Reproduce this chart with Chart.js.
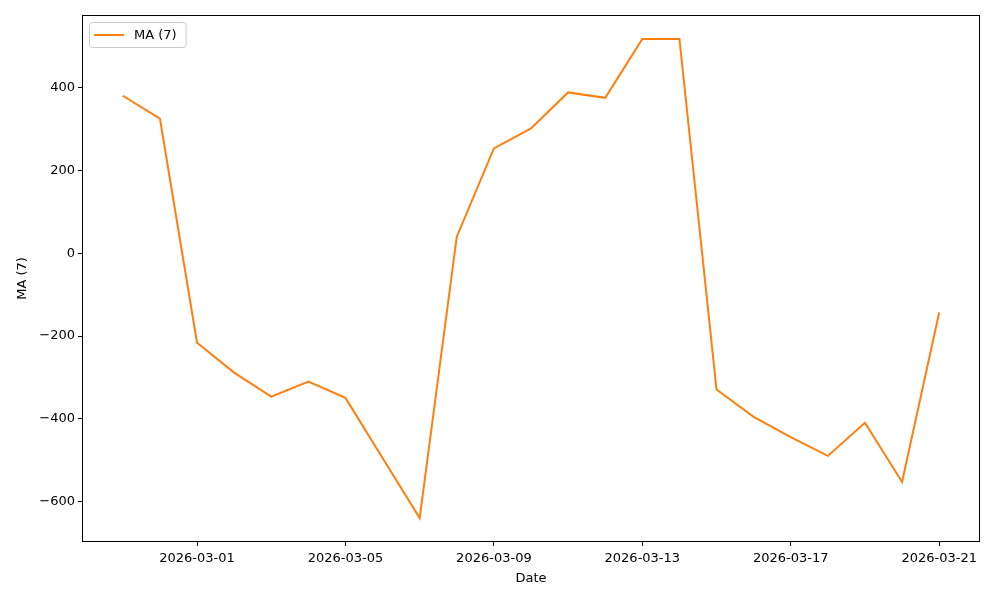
<!DOCTYPE html>
<html>
<head>
<meta charset="utf-8">
<script src="https://cdn.jsdelivr.net/npm/chart.js@4.4.1/dist/chart.umd.min.js"></script>
<style>
  html, body { margin: 0; padding: 0; background: #fff; }
  #wrap { width: 1000px; height: 600px; }
</style>
</head>
<body>
<div id="wrap"><canvas id="maChart" width="1000" height="600"></canvas></div>
<script>
var dates = ['2026-02-27','2026-02-28','2026-03-01','2026-03-02','2026-03-03','2026-03-04','2026-03-05',
             '2026-03-06','2026-03-07','2026-03-08','2026-03-09','2026-03-10','2026-03-11','2026-03-12',
             '2026-03-13','2026-03-14','2026-03-15','2026-03-16','2026-03-17','2026-03-18','2026-03-19',
             '2026-03-20','2026-03-21'];
var maValues = [380, 325, -216, -288, -346, -310, -349,
                -494, -639, 40, 253, 301, 388, 375,
                517, 517, -329, -395, -444, -489, -409,
                -552, -143];
var xTickDates = ['2026-03-01','2026-03-05','2026-03-09','2026-03-13','2026-03-17','2026-03-21'];
var yTickValues = [-600, -400, -200, 0, 200, 400];
var seriesLabel = 'MA (7)';

var DAY = 86400000;
function toDay(s){
    var p = s.split('-');
    return Date.UTC(+p[0], +p[1] - 1, +p[2]) / DAY;
}
function fromDay(d){
    var dt = new Date(Math.round(d) * DAY);
    var m = dt.getUTCMonth() + 1, dd = dt.getUTCDate();
    return dt.getUTCFullYear() + '-' + (m < 10 ? '0' : '') + m + '-' + (dd < 10 ? '0' : '') + dd;
}

var points = dates.map(function(d, i){ return {x: toDay(d), y: maValues[i]}; });
var xFirst = toDay(dates[0]), xLast = toDay(dates[dates.length - 1]);
var xPad = (xLast - xFirst) * 0.05;
var yMinV = Math.min.apply(null, maValues), yMaxV = Math.max.apply(null, maValues);
var yPad = (yMaxV - yMinV) * 0.05;

var FONT = 'DejaVu Sans';
var lineColor = '#ff7f0e';

// frame + inline legend like matplotlib
var framePlugin = {
    id: 'frame',
    afterDraw: function(chart){
        var ctx = chart.ctx, a = chart.chartArea;
        ctx.save();
        ctx.strokeStyle = '#000';
        ctx.lineWidth = 1;
        ctx.strokeRect(Math.round(a.left) + 0.5, Math.round(a.top) + 0.5,
                       Math.round(a.right - a.left) - 1, Math.round(a.bottom - a.top) - 1);

        // legend box
        ctx.font = '13px ' + FONT;
        var tw = ctx.measureText(seriesLabel).width;
        var bx = a.left + 7, by = a.top + 7, bw = tw + 54, bh = 25;
        ctx.beginPath();
        if (ctx.roundRect) ctx.roundRect(bx + 0.5, by + 0.5, bw, bh, 3); else ctx.rect(bx + 0.5, by + 0.5, bw, bh);
        ctx.fillStyle = 'rgba(255,255,255,0.8)';
        ctx.fill();
        ctx.strokeStyle = '#cccccc';
        ctx.stroke();
        ctx.beginPath();
        ctx.strokeStyle = lineColor;
        ctx.lineWidth = 2;
        ctx.moveTo(bx + 5, by + bh / 2 + 0.5);
        ctx.lineTo(bx + 35, by + bh / 2 + 0.5);
        ctx.stroke();
        ctx.fillStyle = '#000';
        ctx.textBaseline = 'middle';
        ctx.fillText(seriesLabel, bx + 45, by + bh / 2 + 1);
        ctx.restore();
    }
};

var maChart = new Chart(document.getElementById('maChart'), {
    type: 'line',
    data: {
        datasets: [{
            label: seriesLabel,
            data: points,
            borderColor: lineColor,
            backgroundColor: lineColor,
            borderWidth: 2,
            pointRadius: 0,
            tension: 0,
            fill: false
        }]
    },
    options: {
        responsive: false,
        animation: false,
        layout: { padding: { left: 0, top: 15, right: 20, bottom: 0 } },
        plugins: {
            legend: { display: false },
            tooltip: { enabled: false }
        },
        scales: {
            x: {
                type: 'linear',
                min: xFirst - xPad,
                max: xLast + xPad,
                afterBuildTicks: function(axis){
                    axis.ticks = xTickDates.map(function(d){ return {value: toDay(d)}; });
                },
                afterFit: function(axis){ axis.height = 58; },
                grid: { display: true, drawOnChartArea: false, tickLength: 4, color: '#000' },
                border: { display: false },
                ticks: {
                    color: '#000',
                    font: { family: FONT, size: 13 },
                    maxRotation: 0,
                    padding: 5,
                    callback: function(v){ return fromDay(v); }
                },
                title: { display: true, text: 'Date', color: '#000', font: { family: FONT, size: 13 }, padding: { top: 4, bottom: 14 } }
            },
            y: {
                min: yMinV - yPad,
                max: yMaxV + yPad,
                afterBuildTicks: function(axis){
                    axis.ticks = yTickValues.map(function(v){ return {value: v}; });
                },
                afterFit: function(axis){ axis.width = 82; },
                grid: { display: true, drawOnChartArea: false, tickLength: 4, color: '#000' },
                border: { display: false },
                ticks: {
                    color: '#000',
                    font: { family: FONT, size: 13 },
                    padding: 3,
                    callback: function(v){ return v < 0 ? '\u2212' + Math.abs(v) : String(v); }
                },
                title: { display: true, text: 'MA (7)', color: '#000', font: { family: FONT, size: 13 }, padding: { top: 15, bottom: 4 } }
            }
        }
    },
    plugins: [framePlugin]
});
</script>
</body>
</html>
